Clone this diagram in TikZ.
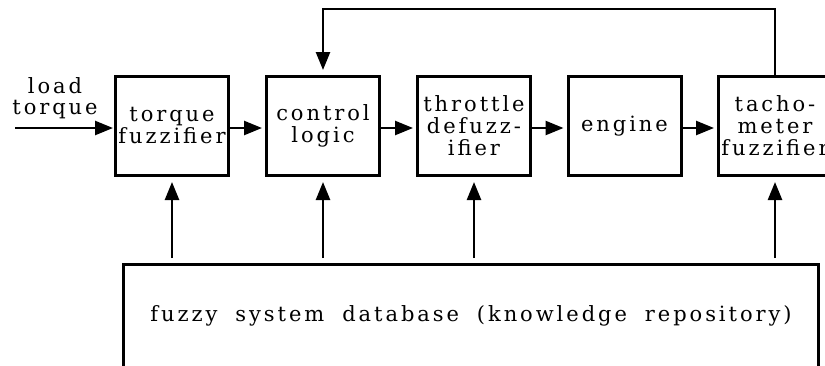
\documentclass[tikz,border=0pt]{standalone}
\usepackage{fontspec}
\setmainfont{DejaVu Serif}
\newfontfamily\boxfont{DejaVu Serif}[LetterSpace=14]
\newcommand\wsp{\hspace{18pt}}
\usetikzlibrary{arrows.meta}
\tikzset{
  blk/.style={draw, line width=3pt, minimum width=113pt, minimum height=99pt,
    inner sep=0pt, align=center, font=\boxfont\fontsize{21}{22}\selectfont},
  lbl/.style={inner sep=0pt, align=center, font=\boxfont\fontsize{21}{21}\selectfont},
  arr/.style={line width=2.5pt, -{Triangle[length=18pt,width=14pt]}},
}
\begin{document}
\begin{tikzpicture}[x=1pt,y=-1pt]
\useasboundingbox (0,0) rectangle (825,365);
\node[blk] (tf) at (172,126) {torque\\fuzzifier};
\node[blk] (cl) at (323,126) {control\\logic};
\node[blk] (td) at (474,126) {throttle\\defuzz-\\ifier};
\node[blk] (en) at (624.5,126) {engine};
\node[blk] (tm) at (775,126) {tacho-\\meter\\fuzzifier};
\node[draw, line width=3pt, minimum width=695pt, minimum height=103pt, inner sep=0pt,
  font=\boxfont\fontsize{21}{22}\selectfont] (db) at (471,316)
  {fuzzy\wsp system\wsp database\wsp (knowledge\wsp repository)};
\node[lbl] (lt) at (55,98) {load\\torque};
\coordinate (in) at (15,128);
\draw[arr, shorten >=1pt] (in) -- (in -| tf.west);
\draw[arr, shorten >=3pt] ([yshift=-2pt]tf.east) -- ([yshift=-2pt]cl.west);
\draw[arr, shorten >=3pt] ([yshift=-2pt]cl.east) -- ([yshift=-2pt]td.west);
\draw[arr, shorten >=3pt] ([yshift=-2pt]td.east) -- ([yshift=-2pt]en.west);
\draw[arr, shorten >=3pt] ([yshift=-2pt]en.east) -- ([yshift=-2pt]tm.west);
\draw[arr, shorten >=5pt] (tm.north) -- (tm.north |- 0,9) -- (cl.north |- 0,9) -- (cl.north);
\foreach \b in {tf,cl,td,tm}
  \draw[arr, shorten <=5pt, shorten >=5pt] (db.north -| \b) -- (\b.south);
\end{tikzpicture}
\end{document}
